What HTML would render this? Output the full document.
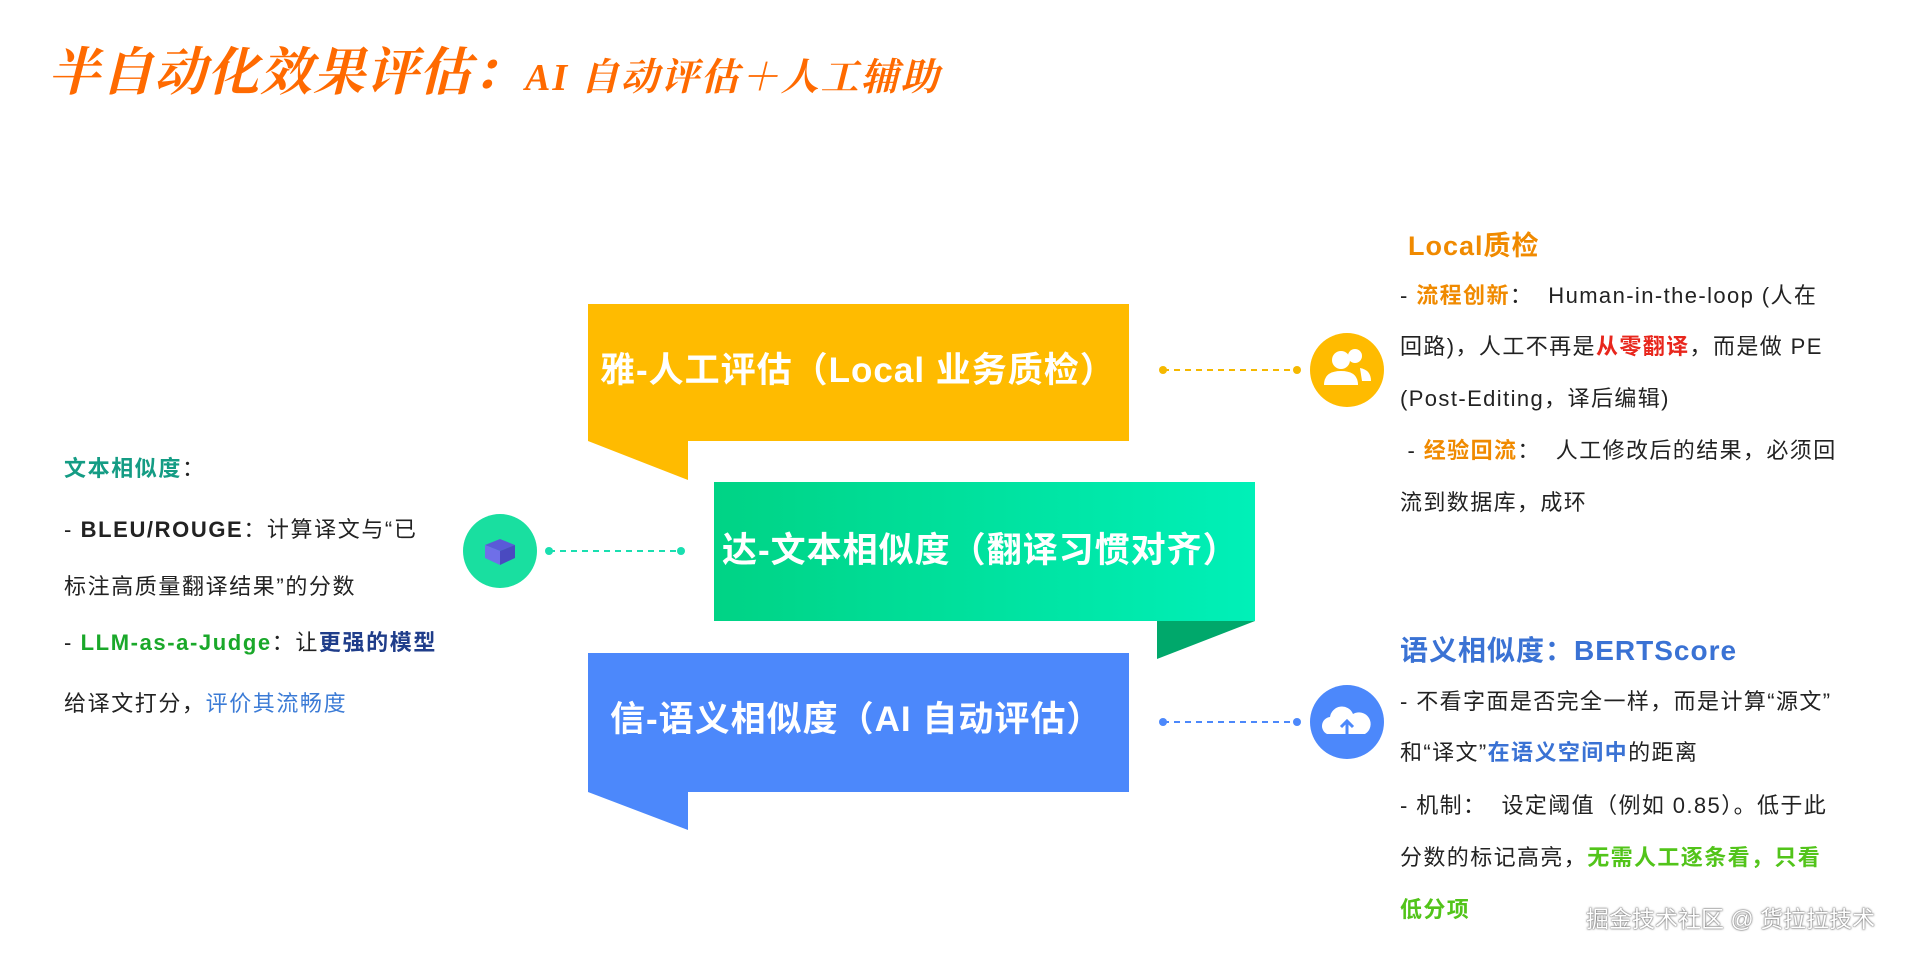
<!DOCTYPE html>
<html><head><meta charset="utf-8"><style>
body{margin:0;width:1920px;height:956px;background:#fff;position:relative;overflow:hidden;font-family:"Liberation Sans","Noto Sans CJK SC",sans-serif;}
.a{position:absolute;white-space:nowrap;}
.t{font-family:"Liberation Serif","Noto Serif CJK SC",serif;font-style:italic;font-weight:bold;color:#ff6a00;}
.bx{color:#fff;font-weight:bold;font-size:35px;line-height:40px;letter-spacing:1px;}
.l{font-size:22px;color:#222;line-height:28px;letter-spacing:1.6px;}
.r{font-size:22px;color:#222;line-height:28px;letter-spacing:1.4px;}
.o{color:#f08a00;font-weight:bold}
.red{color:#e8261c;font-weight:bold}
.g{color:#52c41a;font-weight:bold}
.bl{color:#3a72d4;font-weight:bold}
</style></head><body>
<div class="a t" style="left:48px;top:42px;font-size:52px;line-height:64px;letter-spacing:1px;">半自动化效果评估：<span style="font-size:38px;letter-spacing:2px;">AI 自动评估＋人工辅助</span></div>

<svg class="a" style="left:0;top:0" width="1920" height="956">
<defs><linearGradient id="gg" x1="0" x2="1" y1="0" y2="0"><stop offset="0" stop-color="#00d385"/><stop offset="1" stop-color="#00f0b8"/></linearGradient></defs>
<rect x="588" y="304" width="541" height="137" fill="#ffbb00"/>
<polygon points="588,441 688,441 688,480" fill="#ffbb00"/>
<rect x="714" y="482" width="541" height="139" fill="url(#gg)"/>
<polygon points="1157,621 1255,621 1157,659" fill="#00a86b"/>
<rect x="588" y="653" width="541" height="139" fill="#4c88fb"/>
<polygon points="588,792 688,792 688,830" fill="#4c88fb"/>
<line x1="1163" y1="370" x2="1297" y2="370" stroke="#f5b800" stroke-width="2" stroke-dasharray="6,5"/>
<circle cx="1163" cy="370" r="4" fill="#f5b800"/><circle cx="1297" cy="370" r="4" fill="#f5b800"/>
<line x1="1163" y1="722" x2="1297" y2="722" stroke="#4c88fb" stroke-width="2" stroke-dasharray="6,5"/>
<circle cx="1163" cy="722" r="4" fill="#4c88fb"/><circle cx="1297" cy="722" r="4" fill="#4c88fb"/>
<line x1="549" y1="551" x2="681" y2="551" stroke="#19dfb0" stroke-width="2" stroke-dasharray="6,5"/>
<circle cx="549" cy="551" r="4" fill="#19dfb0"/><circle cx="681" cy="551" r="4" fill="#19dfb0"/>
<circle cx="1347" cy="370" r="37" fill="#ffbb00"/>
<circle cx="1341" cy="360" r="9" fill="#fff"/><path d="M1324,385 q0,-14 17,-14 q17,0 17,14 z" fill="#fff"/>
<circle cx="1355" cy="356" r="7" fill="#fff"/><path d="M1360,368 q11,2 11,13 h-9" fill="#fff"/>
<circle cx="1347" cy="722" r="37" fill="#4c88fb"/>
<path d="M1327,734 a9,9 0 0 1 3,-17 a12,12 0 0 1 23,-3 a9,9 0 0 1 12,20 z" fill="#fff"/>
<path d="M1347,734 v-12 m-6,5 l6,-6 l6,6" stroke="#4c88fb" stroke-width="3" fill="none"/>
<circle cx="500" cy="551" r="37" fill="#19dfa0"/>
<path d="M485,545 l15,-6 l15,6 l-15,6 z" fill="#5a5ad8"/><path d="M485,545 v13 l15,7 v-14 z" fill="#6f6fe8"/><path d="M515,545 v13 l-15,7 v-14 z" fill="#4a4ac0"/>
</svg>

<div class="a bx" style="left:600px;top:351px;">雅-人工评估（Local 业务质检）</div>
<div class="a bx" style="left:722px;top:531px;">达-文本相似度（翻译习惯对齐）</div>
<div class="a bx" style="left:610px;top:700px;">信-语义相似度（AI 自动评估）</div>

<div class="a l" style="left:64px;top:455px;"><b style="color:#149c84">文本相似度</b>：</div>
<div class="a l" style="left:64px;top:516px;">- <b>BLEU/ROUGE</b>：计算译文与“已</div>
<div class="a l" style="left:64px;top:573px;">标注高质量翻译结果”的分数</div>
<div class="a l" style="left:64px;top:629px;">- <b style="color:#1aa82a">LLM-as-a-Judge</b>：让<b style="color:#1f3d8a">更强的模型</b></div>
<div class="a l" style="left:64px;top:690px;">给译文打分，<span style="color:#3b7bd6">评价其流畅度</span></div>

<div class="a" style="left:1408px;top:224px;font-size:27px;font-weight:bold;color:#f08a00;letter-spacing:1px;">Local质检</div>
<div class="a r" style="left:1400px;top:282px;">- <span class="o">流程创新</span>：&nbsp; Human-in-the-loop (人在</div>
<div class="a r" style="left:1400px;top:333px;">回路)，人工不再是<span class="red">从零翻译</span>，而是做 PE</div>
<div class="a r" style="left:1400px;top:385px;">(Post-Editing，译后编辑)</div>
<div class="a r" style="left:1400px;top:437px;">&nbsp;- <span class="o">经验回流</span>：&nbsp; 人工修改后的结果，必须回</div>
<div class="a r" style="left:1400px;top:489px;">流到数据库，成环</div>

<div class="a bl" style="left:1400px;top:629px;font-size:28px;letter-spacing:1px;">语义相似度：BERTScore</div>
<div class="a r" style="left:1400px;top:688px;">- 不看字面是否完全一样，而是计算“源文”</div>
<div class="a r" style="left:1400px;top:739px;">和“译文”<span class="bl">在语义空间中</span>的距离</div>
<div class="a r" style="left:1400px;top:792px;">- 机制：&nbsp; 设定阈值（例如 0.85）。低于此</div>
<div class="a r" style="left:1400px;top:844px;">分数的标记高亮，<span class="g">无需人工逐条看，只看</span></div>
<div class="a r" style="left:1400px;top:896px;"><span class="g">低分项</span></div>

<div class="a" style="left:1586px;top:900px;font-size:23px;color:#fff;text-shadow:0 0 2px #555,0 0 1px #555;">掘金技术社区 @ 货拉拉技术</div>
</body></html>
